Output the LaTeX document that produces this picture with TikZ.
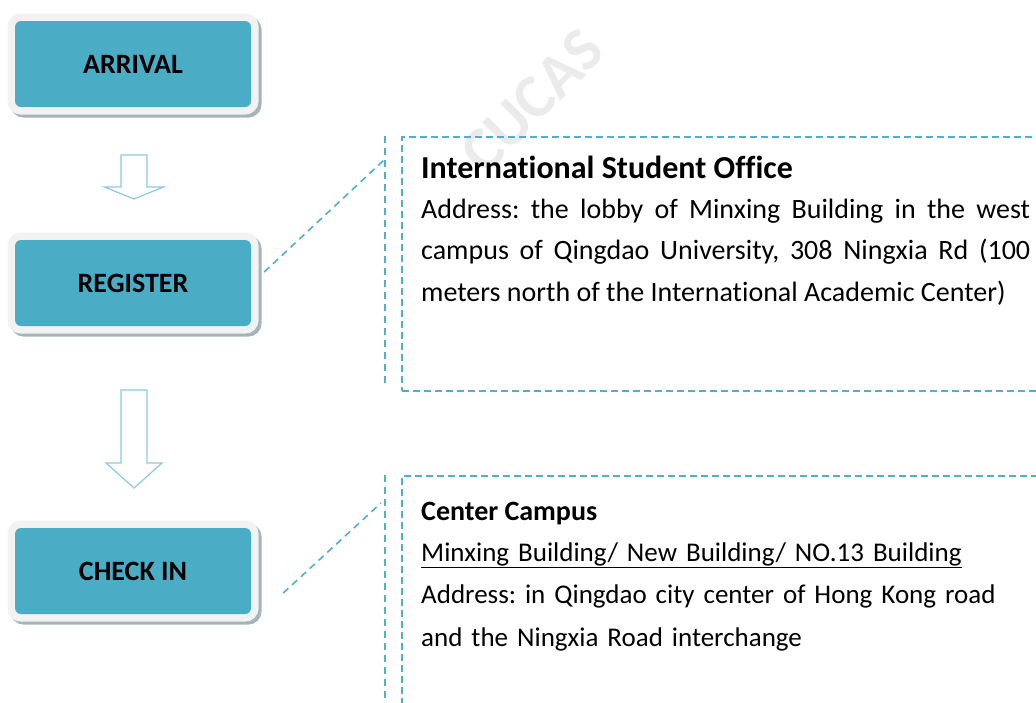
\documentclass[tikz,border=0pt]{standalone}
\usepackage{fontspec}
\setmainfont{Carlito}[Ligatures=NoCommon]
\frenchspacing
\usetikzlibrary{positioning,calc}
\definecolor{boxblue}{HTML}{4BACC6}
\definecolor{framegray}{HTML}{F2F2F2}
\definecolor{shadowgray}{HTML}{A3B5BB}
\definecolor{dashblue}{HTML}{4FB0CA}
\definecolor{arrowblue}{HTML}{8CCBDE}
\begin{document}
\begin{tikzpicture}[x=1pt,y=-1pt,
  stepbox/.style={fill=boxblue, rounded corners=6pt, minimum width=236pt, minimum height=86pt, inner sep=0pt,
    font=\fontsize{28}{32}\selectfont\bfseries,
    preaction={draw=shadowgray, line width=15pt, transform canvas={shift={(3pt,-3pt)}}},
    preaction={draw=framegray, line width=15pt}},
  callout/.style={draw=dashblue, line width=1.8pt, dash pattern=on 7pt off 4pt, minimum width=650pt, anchor=north west, inner sep=0pt},
  leader/.style={draw=dashblue, line width=1.6pt, dash pattern=on 7pt off 5pt},
  blockarrow/.style={draw=arrowblue, line width=1.2pt, fill=white, line join=miter}]
\useasboundingbox (0,0) rectangle (1036,702);
\node[rotate=45, text=black!8, font=\fontsize{62}{62}\selectfont\bfseries] (mark) at (532,101) {CUCAS};

\node[stepbox] (arrival) at (133,64) {ARRIVAL};
\node[stepbox] (register) at (133,283) {REGISTER};
\node[stepbox] (checkin) at (133,571) {CHECK IN};

\draw[blockarrow] (121,155) -- (147,155) -- (147,187) -- (163.5,187) -- (134,199) -- (104.5,187) -- (121,187) -- cycle;
\draw[blockarrow] (121,390) -- (147,390) -- (147,463) -- (162,463) -- (134,488) -- (106,463) -- (121,463) -- cycle;

\node[callout, minimum height=254pt] (office) at (401,136) {};
\draw[leader] (385,136) -- (385,385);
\coordinate (officetip) at (384,160);
\draw[leader] ([shift={(13pt,11pt)}]register.east) -- (officetip);
\node[anchor=base west, inner sep=0pt, font=\fontsize{32}{36}\selectfont\bfseries] (officetitle) at (421,178) {International Student Off{}ice};
\node[anchor=north west, inner sep=0pt, text width=609pt, align=justify, font=\fontsize{28}{41.5}\selectfont] (officetext) at (421,195)
  {\rule{0pt}{23pt}Address: the lobby of Minxing Building in the west\linebreak campus of Qingdao University, 308 Ningxia Rd (100\linebreak meters north of the International Academic Center)};

\node[callout, minimum height=260pt] (campus) at (401,475) {};
\draw[leader] (385,475) -- (385,710);
\coordinate (campustip) at (381,503);
\draw[leader] ([shift={(32pt,-22pt)}]checkin.east) -- (campustip);
\node[anchor=base west, inner sep=0pt, font=\fontsize{28}{32}\selectfont\bfseries] (campustitle) at (421,520) {Center Campus};
\node[anchor=north west, inner sep=0pt, text width=609pt, align=left, font=\fontsize{27}{42.5}\selectfont] (campustext) at (421,538)
  {\rule{0pt}{23pt}\underline{Minxing Building/ New Building/ NO.13 Building}\\ Address: in Qingdao city center of Hong Kong road\\ and the Ningxia Road interchange};
\end{tikzpicture}
\end{document}
